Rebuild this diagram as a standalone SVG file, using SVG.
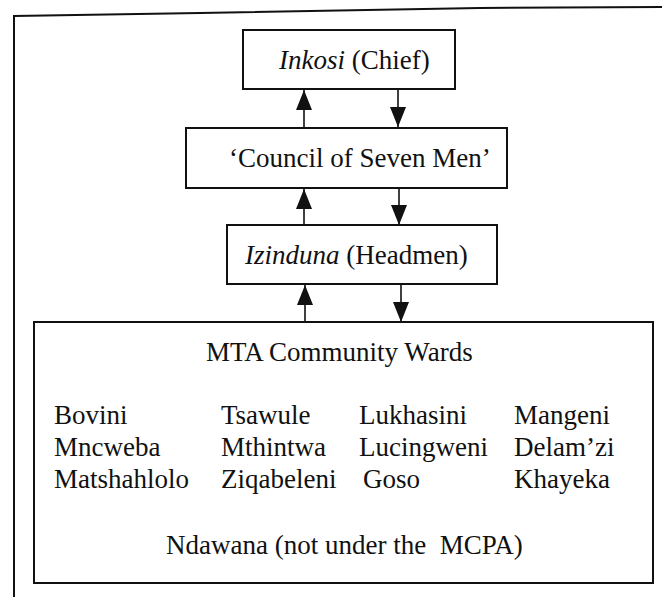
<svg xmlns="http://www.w3.org/2000/svg" width="662" height="597" viewBox="0 0 662 597" font-family="'Liberation Serif', 'Times New Roman', serif">
  <style>
    .box { fill: #ffffff; stroke: #111111; stroke-width: 2; }
    .frame { fill: none; stroke: #111111; stroke-width: 2; }
    .link { stroke: #111111; stroke-width: 1.6; fill: none; }
    .lbl { font-family: "Liberation Serif", "Times New Roman", serif; font-size: 27px; fill: #111111; }
    .it { font-style: italic; }
  </style>
  <defs>
    <marker id="head" viewBox="0 0 20 16" refX="20" refY="8" markerWidth="20" markerHeight="16" markerUnits="userSpaceOnUse" orient="auto">
      <path d="M0,0 L20,8 L0,16 Z" fill="#111111"/>
    </marker>
  </defs>
  <rect width="662" height="597" fill="#ffffff"/>

  <!-- outer frame: top and left edges only -->
  <polyline class="frame" points="14,597 14,16 200,13 480,8 662,7"/>

  <g id="connectors">
    <!-- Inkosi <-> Council -->
    <line class="link" x1="304" y1="128" x2="304" y2="90" marker-end="url(#head)"/>
    <line class="link" x1="398" y1="89" x2="398" y2="127" marker-end="url(#head)"/>
    <!-- Council <-> Izinduna -->
    <line class="link" x1="304" y1="225" x2="304" y2="189" marker-end="url(#head)"/>
    <line class="link" x1="399" y1="188" x2="399" y2="225" marker-end="url(#head)"/>
    <!-- Izinduna <-> Wards -->
    <line class="link" x1="305" y1="322" x2="305" y2="285" marker-end="url(#head)"/>
    <line class="link" x1="401" y1="284" x2="401" y2="322" marker-end="url(#head)"/>
  </g>

  <g id="inkosi">
    <rect class="box" x="243" y="30" width="212" height="59"/>
    <text class="lbl" x="279" y="69"><tspan class="it">Inkosi</tspan> (Chief)</text>
  </g>

  <g id="council">
    <rect class="box" x="186" y="128" width="321" height="60"/>
    <text class="lbl" x="229" y="167">‘Council of Seven Men’</text>
  </g>

  <g id="izinduna">
    <rect class="box" x="227" y="225" width="270" height="59"/>
    <text class="lbl" x="245" y="264"><tspan class="it">Izinduna</tspan> (Headmen)</text>
  </g>

  <g id="wards">
    <rect class="box" x="34" y="322" width="619" height="261"/>
    <text class="lbl" x="206" y="361">MTA Community Wards</text>
    <g class="lbl">
      <text x="54" y="424">Bovini</text>
      <text x="54" y="456">Mncweba</text>
      <text x="54" y="488">Matshahlolo</text>
      <text x="221" y="424">Tsawule</text>
      <text x="221" y="456">Mthintwa</text>
      <text x="221" y="488">Ziqabeleni</text>
      <text x="359" y="424">Lukhasini</text>
      <text x="359" y="456">Lucingweni</text>
      <text x="363" y="488">Goso</text>
      <text x="514" y="424">Mangeni</text>
      <text x="514" y="456">Delam’zi</text>
      <text x="514" y="488">Khayeka</text>
    </g>
    <text class="lbl" x="166" y="554" xml:space="preserve">Ndawana (not under the  MCPA)</text>
  </g>
</svg>
